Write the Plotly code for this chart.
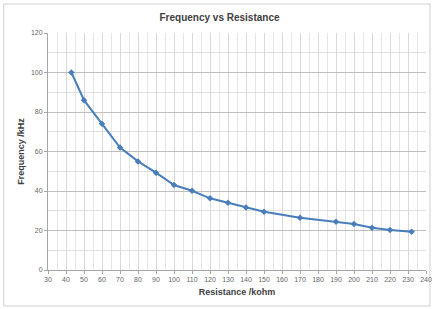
import plotly.graph_objects as go

resistance = [43, 50, 60, 70, 80, 90, 100, 110, 120, 130, 140, 150, 170, 190, 200, 210, 220, 232]
frequency = [100, 86, 74, 62, 55, 49.3, 43, 40.1, 36.3, 34.1, 31.7, 29.5, 26.5, 24.4, 23.3, 21.4, 20.3, 19.4]

W, H = 439, 309
L, R, T, B = 48, 7, 33, 39
pw, ph = W - L - R, H - T - B

def px(x):
    return (x - L) / pw

def py(y):
    return (H - B - y) / ph

fig = go.Figure()
fig.add_trace(go.Scatter(
    x=resistance, y=frequency, mode="lines+markers",
    line=dict(color="#4A7EBB", width=2),
    marker=dict(symbol="diamond", size=5, color="#4A7EBB"),
    showlegend=False,
))

fig.update_layout(
    width=W, height=H,
    margin=dict(l=L, r=R, t=T, b=B),
    paper_bgcolor="white", plot_bgcolor="white",
    font=dict(family="Liberation Sans, Arial", color="#595959"),
    title=dict(text="<b>Frequency vs Resistance</b>", x=0.5, xanchor="center",
               y=1 - 17 / H, yanchor="middle",
               font=dict(size=10, color="#404040")),
    xaxis=dict(
        range=[30, 240], dtick=10, tick0=30,
        showgrid=True, gridcolor="#d9d9d9", gridwidth=1,
        minor=dict(dtick=5, showgrid=True, gridcolor="#e6e6e6"),
        zeroline=False, showline=True, linecolor="#a6a6a6",
        ticks="outside", ticklen=3, tickcolor="#a6a6a6",
        tickfont=dict(size=7, color="#666666"),
        title=dict(text="<b>Resistance /kohm</b>", font=dict(size=9, color="#404040"), standoff=6),
    ),
    yaxis=dict(
        range=[0, 120], dtick=20,
        showgrid=True, gridcolor="#bfbfbf", gridwidth=1,
        minor=dict(dtick=10, showgrid=True, gridcolor="#e0e0e0"),
        zeroline=False, showline=True, linecolor="#a6a6a6",
        ticks="outside", ticklen=3, tickcolor="#a6a6a6",
        tickfont=dict(size=7, color="#666666"),
        title=dict(text="<b>Frequency /kHz</b>", font=dict(size=9, color="#404040"), standoff=4),
    ),
    shapes=[dict(type="rect", xref="paper", yref="paper",
                 x0=px(3), x1=px(436), y0=py(306), y1=py(4),
                 line=dict(color="#d0d0d0", width=1), layer="below")],
)

fig.write_html("out.html", config={"displayModeBar": False},
               post_script="document.body.style.margin='0';document.body.style.overflow='hidden';")
